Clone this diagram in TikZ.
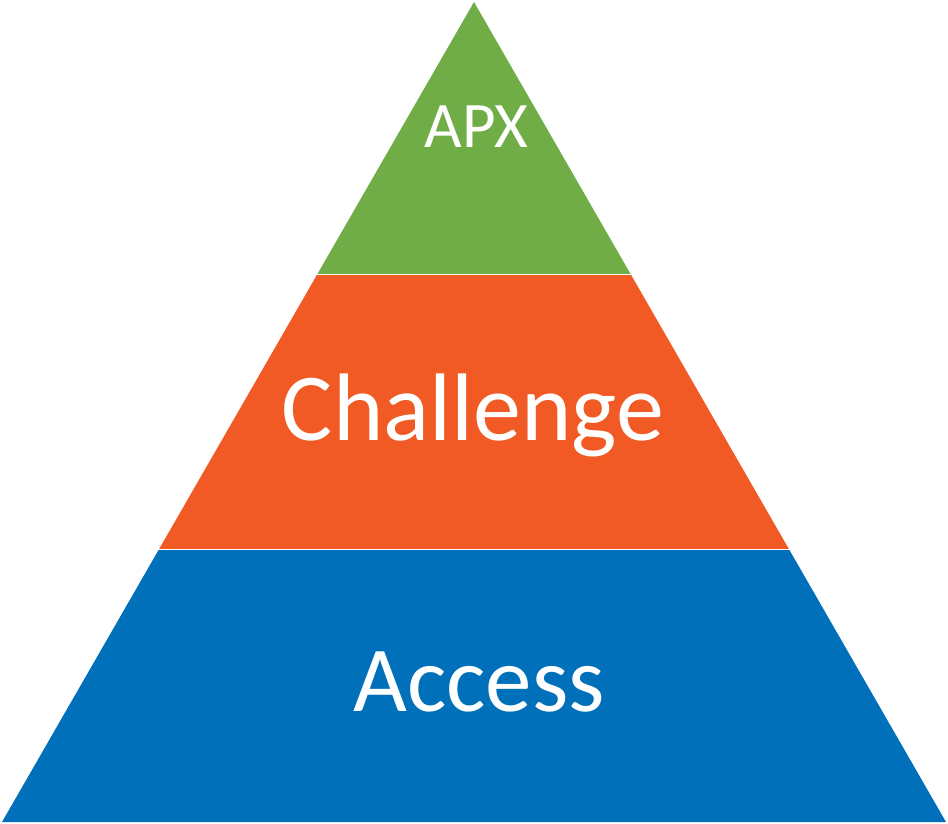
\documentclass[tikz,border=0pt]{standalone}
\usepackage{fontspec}
\setmainfont{Carlito}
\definecolor{lgreen}{RGB}{112,173,71}
\definecolor{lorange}{RGB}{241,90,36}
\definecolor{lblue}{RGB}{0,112,186}
\tikzset{lbl/.style={text=white, anchor=base, inner sep=0pt}}
\begin{document}
\begin{tikzpicture}[x=1pt,y=-1pt]
\useasboundingbox (0,0) rectangle (948,824);
\def\tri{(474,2) -- (946,822) -- (2,822) -- cycle}
\begin{scope}
\clip (0,0) rectangle (948,273);
\fill[lgreen] \tri;
\end{scope}
\begin{scope}
\clip (0,275.5) rectangle (948,548);
\fill[lorange] \tri;
\end{scope}
\begin{scope}
\clip (0,550.5) rectangle (948,824);
\fill[lblue] \tri;
\end{scope}
\node[lbl, font=\fontsize{65}{65}\selectfont] (apx) at (476.5,148) {APX};
\node[lbl, font=\fontsize{96}{96}\selectfont] (challenge) at (473,440) {Challenge};
\node[lbl, font=\fontsize{93}{93}\selectfont] (access) at (479,711) {Access};
\end{tikzpicture}
\end{document}
